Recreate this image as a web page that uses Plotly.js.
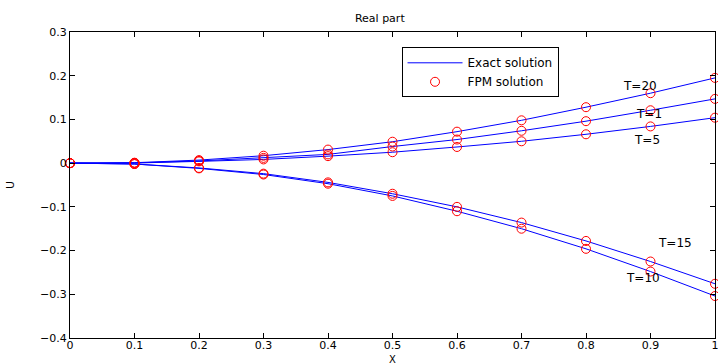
<!DOCTYPE html>
<html><head><meta charset="utf-8">
<script src="https://cdn.plot.ly/plotly-3.0.1.min.js"></script>
<style>body{margin:0;background:#fff}#c{width:718px;height:364px}</style>
</head><body><div id="c"></div>
<script>
const xs = [0,0.1,0.2,0.3,0.4,0.5,0.6,0.7,0.8,0.9,1];
const xTickLabels = ["0","0.1","0.2","0.3","0.4","0.5","0.6","0.7","0.8","0.9","1"];
const yTicks = [-0.4,-0.3,-0.2,-0.1,0,0.1,0.2,0.3];
const yTickLabels = ["\u22120.4","\u22120.3","\u22120.2","\u22120.1","0","0.1","0.2","0.3"];
const T1  = [0, 0.0005, 0.005, 0.012, 0.020, 0.038, 0.054, 0.074, 0.096, 0.121, 0.147];
const T5  = [0, 0.0003, 0.004, 0.0085, 0.016, 0.025, 0.037, 0.050, 0.066, 0.084, 0.104];
const T20 = [0, 0.001, 0.007, 0.017, 0.031, 0.049, 0.072, 0.098, 0.128, 0.160, 0.195];
const T15 = [0, -0.002, -0.011, -0.024, -0.044, -0.070, -0.100, -0.136, -0.178, -0.225, -0.276];
const T10 = [0, -0.002, -0.012, -0.026, -0.047, -0.075, -0.110, -0.150, -0.196, -0.248, -0.304];
const seriesList = [T1, T5, T10, T15, T20];
const labels = ["T=20","T=1","T=5","T=15","T=10"];
const labelX = [0.883, 0.897, 0.895, 0.938, 0.889];
const labelY = [0.176, 0.112, 0.054, -0.182, -0.263];

const traces = [];
seriesList.forEach((s,i)=>{
  traces.push({x: xs, y: s, mode:'lines', type:'scatter', name:'Exact solution',
    line:{color:'#0000ff', width:1}, showlegend: i===0, legendrank:1});
});
seriesList.forEach((s,i)=>{
  traces.push({x: xs, y: s, mode:'markers', type:'scatter', name:'FPM solution',
    marker:{symbol:'circle-open', color:'#ff0000', size:9, line:{width:1}}, showlegend: i===0, legendrank:2, cliponaxis:false});
});
const F = 'DejaVu Sans, Liberation Sans, Arial, sans-serif';
const ann = labels.map((t,i)=>({x:labelX[i], y:labelY[i], text:t, showarrow:false, xref:'x', yref:'y', font:{family:F,size:12,color:'#000'}}));
ann.push({x:0.5, y:-0.071, xref:'paper', yref:'paper', text:'X', showarrow:false, yanchor:'middle', font:{family:F,size:10,color:'#000'}});
const layout = {
  width:718, height:364,
  margin:{l:70, r:3, t:32, b:26},
  paper_bgcolor:'#fff', plot_bgcolor:'#fff',
  font:{family:F, size:12, color:'#000'},
  title:{text:'Real part', x:0.529, xanchor:'center', xref:'container', y:0.95, yanchor:'middle', font:{family:F,size:11,color:'#000'}},
  xaxis:{range:[0,1], tickmode:'array', tickvals:xs, ticktext:xTickLabels, ticks:'inside', ticklen:5, tickcolor:'#000', showline:true, linecolor:'#000', linewidth:1, mirror:'ticks', showgrid:false, zeroline:false, ticklabeloverflow:'allow', ticklabelstandoff:-3,
    tickfont:{family:F,size:11}},
  yaxis:{range:[-0.4,0.3], tickmode:'array', tickvals:yTicks, ticktext:yTickLabels, ticks:'inside', ticklen:5, tickcolor:'#000', showline:true, linecolor:'#000', linewidth:1, mirror:'ticks', showgrid:false, zeroline:false, ticklabeloverflow:'allow',
    title:{text:'U', standoff:23, font:{family:F,size:11}}, tickfont:{family:F,size:11}},
  legend:{x:0.514, y:0.95, xanchor:'left', yanchor:'top', bgcolor:'#fff', bordercolor:'#000', borderwidth:1, font:{family:F,size:12}, tracegroupgap:0, itemwidth:55},
  annotations: ann,
  showlegend:true
};
Plotly.newPlot('c', traces, layout, {displayModeBar:false, staticPlot:true});
</script></body></html>
